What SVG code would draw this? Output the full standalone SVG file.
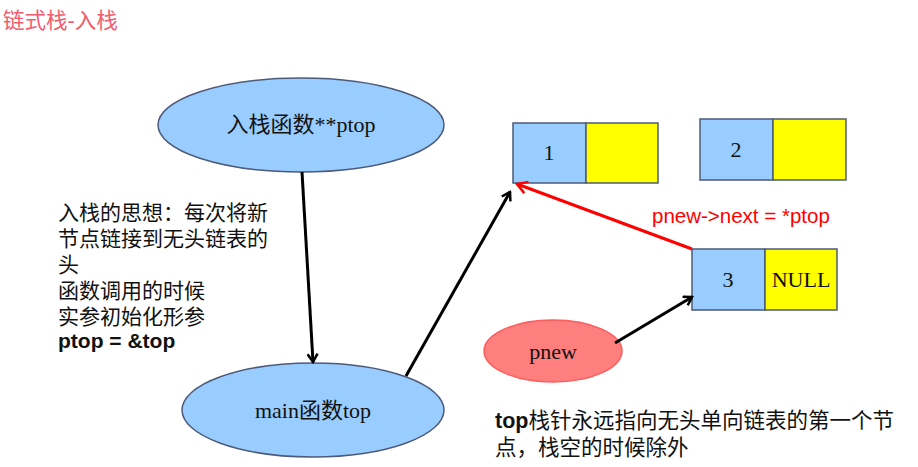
<svg xmlns="http://www.w3.org/2000/svg" width="918" height="467" viewBox="0 0 918 467">
<style>
.blue{fill:#99ccff;stroke:#4d5a78;stroke-width:1.5}
.yel{fill:#ffff00;stroke:#4d5a78;stroke-width:1.5}
.serif{font-family:"Liberation Serif","Noto Sans CJK SC",serif;font-size:22px;fill:#111}
.sans{font-family:"Liberation Sans","Noto Sans CJK SC",sans-serif;font-size:21px;fill:#111}
.conn{fill:none;stroke-width:3}
</style>
<defs>
<marker id="ab" markerWidth="12" markerHeight="12" refX="10" refY="6" orient="auto" markerUnits="userSpaceOnUse" viewBox="0 0 12 12"><path d="M2,1 L10,6 L2,11" fill="none" stroke="#000" stroke-width="2.5"/></marker>
<marker id="ar" markerWidth="14" markerHeight="14" refX="12" refY="7" orient="auto" markerUnits="userSpaceOnUse" viewBox="0 0 14 14"><path d="M2,1 L12,7 L2,13" fill="none" stroke="#ff0000" stroke-width="2.5"/></marker>
</defs>
<text x="3" y="28" font-family="Liberation Sans,Noto Sans CJK SC,sans-serif" font-size="21.5" fill="#f25c6e">链式栈-入栈</text>
<g id="push-func"><ellipse cx="301" cy="125" rx="143" ry="47" class="blue"/><text x="301" y="132" text-anchor="middle" class="serif">入栈函数**ptop</text></g>
<g id="main-func"><ellipse cx="313" cy="410" rx="131" ry="47" class="blue"/><text x="313" y="418" text-anchor="middle" class="serif">main函数top</text></g>
<g id="pnew"><ellipse cx="553" cy="351" rx="69" ry="31" fill="#ff7f7f" stroke="#ff5b5b" stroke-width="1.5"/><text x="553" y="359" text-anchor="middle" class="serif">pnew</text></g>
<g id="node1"><rect x="513" y="123" width="73" height="60" class="blue"/><rect x="586" y="123" width="72" height="60" class="yel"/><text x="549" y="160" text-anchor="middle" class="serif">1</text></g>
<g id="node2"><rect x="700" y="119" width="73" height="61" class="blue"/><rect x="773" y="119" width="73" height="61" class="yel"/><text x="736" y="157" text-anchor="middle" class="serif">2</text></g>
<g id="node3"><rect x="692" y="249" width="73" height="61" class="blue"/><rect x="765" y="249" width="72" height="61" class="yel"/><text x="728" y="287" text-anchor="middle" class="serif">3</text><text x="801" y="287" text-anchor="middle" class="serif">NULL</text></g>
<g id="connectors">
<line x1="302" y1="172" x2="313" y2="362" class="conn" stroke="#000" marker-end="url(#ab)"/>
<line x1="406" y1="376" x2="510" y2="192" class="conn" stroke="#000" marker-end="url(#ab)"/>
<line x1="692" y1="249" x2="517" y2="184" class="conn" stroke="#ff0000" marker-end="url(#ar)"/>
<line x1="615" y1="343" x2="692" y2="297" class="conn" stroke="#000" marker-end="url(#ab)"/>
</g>
<text x="652" y="223" font-family="Liberation Sans,sans-serif" font-size="20.5" fill="#ff0000">pnew-&gt;next = *ptop</text>
<g class="sans">
<text x="58" y="220">入栈的思想：每次将新</text>
<text x="58" y="246">节点链接到无头链表的</text>
<text x="58" y="272">头</text>
<text x="58" y="298">函数调用的时候</text>
<text x="58" y="324">实参初始化形参</text>
<text x="58" y="348" font-weight="bold">ptop = &amp;top</text>
</g>
<text x="495" y="428" class="sans" style="font-size:21.5px"><tspan font-weight="bold">top</tspan>栈针永远指向无头单向链表的第一个节</text>
<text x="495" y="455" class="sans" style="font-size:21.5px">点，栈空的时候除外</text>
</svg>
